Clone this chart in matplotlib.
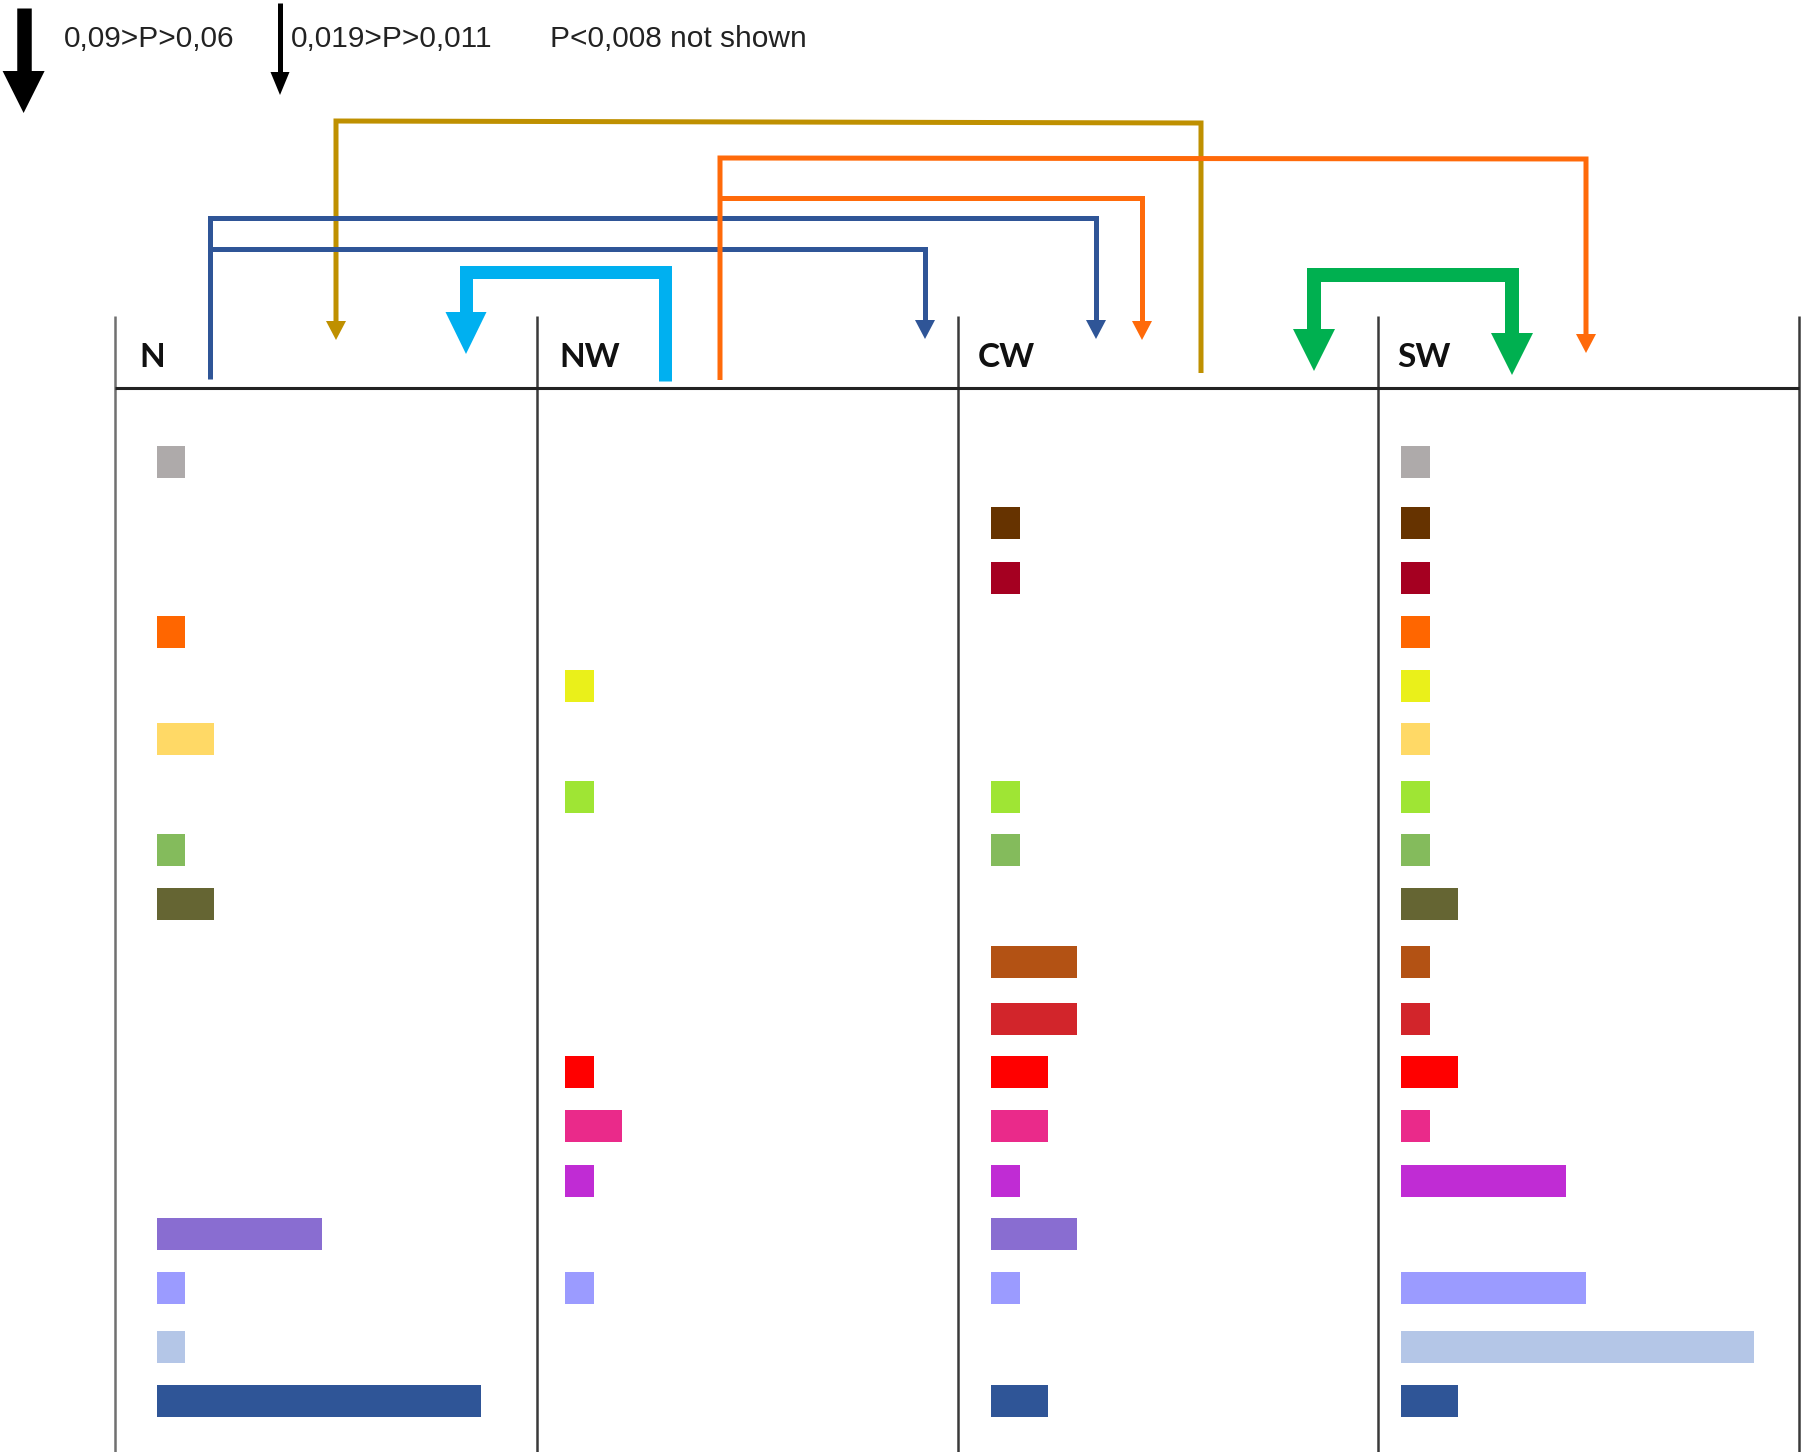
import matplotlib.pyplot as plt
from matplotlib.patches import Polygon
import numpy as np

W, H = 1805, 1452
fig = plt.figure(figsize=(W / 100, H / 100), dpi=100)

# rows of the table, top to bottom, with their colours
taxa = [f'taxon {i + 1}' for i in range(18)]
colors = ['#AEAAAA', '#663300', '#A50021', '#FF6600', '#EAF01A', '#FFD966',
          '#9FE534', '#84BB5C', '#656533', '#B35214', '#D2252B', '#FF0000',
          '#EA2A8A', '#C02CD4', '#896DD1', '#9B9BFF', '#B4C6E7', '#2F5597']

regions = ['N', 'NW', 'CW', 'SW']
vals_N = [1, 0, 0, 1, 0, 2, 0, 1, 2, 0, 0, 0, 0, 0, 5.8, 1, 1, 11.4]
vals_NW = [0, 0, 0, 0, 1, 0, 1, 0, 0, 0, 0, 1, 2, 1, 0, 1, 0, 0]
vals_CW = [0, 1, 1, 0, 0, 0, 1, 1, 0, 3, 3, 2, 2, 1, 3, 1, 0, 2]
vals_SW = [1, 1, 1, 1, 1, 1, 1, 1, 2, 1, 1, 2, 1, 5.8, 0, 6.5, 12.4, 2]
values = [vals_N, vals_NW, vals_CW, vals_SW]

# ---- layout (pixels) ----
edges = [114.5, 537, 958, 1378, 1798.5]
bar_offset = [42, 28, 33, 23]
label_x = [139, 559, 978, 1397]
table_top, table_bottom = 388, 1447
unit = 28.5
# row centres, the table rows are not quite evenly spaced
row_px = np.array([401, 454, 502.5, 549, 596, 642, 692.5, 738, 785, 836,
                   885, 931, 978, 1026, 1072, 1119, 1170, 1217]) * 1.1512
bar_h = 32

# ---- overlay axes in pixel coordinates ----
ax = fig.add_axes([0, 0, 1, 1])
ax.set_xlim(0, W)
ax.set_ylim(H, 0)
ax.axis('off')

ax.vlines(edges[0], 316, 1452, color='#707070', lw=1.8)
ax.vlines(edges[1:], 316, 1452, color='#3a3a3a', lw=1.8)
ax.hlines(table_top, edges[0], edges[-1], color='#222222', lw=2.2)

for x, name in zip(label_x, regions):
    ax.text(x, 367, name, fontsize=24, fontweight='bold', family='Lato',
            va='baseline', ha='left', color='#111111')


def head(tip, prev, color, hl, hw):
    tip = np.asarray(tip, float)
    d = tip - np.asarray(prev, float)
    d /= np.hypot(*d)
    n = np.array([-d[1], d[0]])
    base = tip - d * hl
    ax.add_patch(Polygon([base + n * hw / 2, base - n * hw / 2, tip],
                         closed=True, facecolor=color, edgecolor='none', zorder=3))
    return tip - d * (hl - 2)


def connector(pts, color, width, hl, hw, double=False):
    pts = [np.asarray(p, float) for p in pts]
    end = head(pts[-1], pts[-2], color, hl, hw)
    start = head(pts[0], pts[1], color, hl, hw) if double else pts[0]
    pts = [start] + pts[1:-1] + [end]
    xs, ys = zip(*pts)
    ax.plot(xs, ys, color=color, lw=width * 0.72, solid_joinstyle='miter',
            solid_capstyle='butt', zorder=2)


# connections between regions: path, colour, line px, head length, head width, double
links = [
    ([(1201, 373), (1201, 123), (336, 121), (336, 340)], '#BF9000', 5, 19, 20, False),
    ([(210, 379), (210, 218), (1096, 218), (1096, 339)], '#2F5597', 5, 19, 20, False),
    ([(210, 249), (925, 249), (925, 339)], '#2F5597', 5, 19, 20, False),
    ([(720, 380), (720, 158), (1586, 159), (1586, 353)], '#FF6A0A', 5, 19, 20, False),
    ([(720, 198), (1142, 198), (1142, 340)], '#FF6A0A', 5, 19, 20, False),
    ([(665, 381), (665, 272), (466, 272), (466, 354)], '#00B0F0', 13, 42, 41, False),
    ([(1314, 371), (1314, 275), (1512, 275), (1512, 375)], '#00B050', 14, 42, 42, True),
]
for pts, c, w, hl, hw, dbl in links:
    connector(pts, c, w, hl, hw, dbl)

# legend
connector([(23.6, 8), (23.6, 113)], 'black', 14.5, 42, 42)
connector([(280, 3), (280, 95)], 'black', 5, 23, 19)
for x, s in [(64, '0,09>P>0,06'), (291, '0,019>P>0,011'), (550, 'P<0,008 not shown')]:
    ax.text(x, 47, s, fontsize=21.5, family='Liberation Sans', va='baseline', color='#222222')

# ---- one bar axes per region ----
for i, vals in enumerate(values):
    left = edges[i]
    width = edges[i + 1] - edges[i]
    bax = fig.add_axes([left / W, 1 - table_bottom / H, width / W,
                        (table_bottom - table_top) / H])
    bax.barh(row_px, vals, height=bar_h, color=colors, edgecolor='none')
    bax.set_xlim(-bar_offset[i] / unit, (width - bar_offset[i]) / unit)
    bax.set_ylim(table_bottom, table_top)
    bax.axis('off')
    bax.patch.set_alpha(0)

fig.savefig('out.png', dpi=100, facecolor='white')
